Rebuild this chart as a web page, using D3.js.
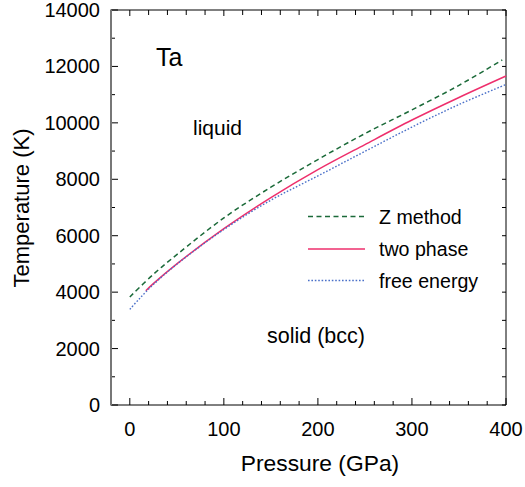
<!DOCTYPE html>
<html>
<head>
<meta charset="utf-8">
<script src="https://cdn.jsdelivr.net/npm/d3@7"></script>
<style>
  body { margin: 0; background: #fff; }
  svg { display: block; font-family: "Liberation Sans", Arial, sans-serif; }
</style>
</head>
<body>
<svg id="chart" width="525" height="487"></svg>
<script>
// data (pressure in GPa, temperature in K)
const zPressure = [0, 25, 50, 100, 150, 200, 250, 300, 350, 396];
const zTemp = [3830, 4630, 5330, 6630, 7720, 8700, 9620, 10460, 11330, 12230];

const twoPressure = [17, 25, 50, 100, 150, 200, 250, 300, 350, 400];
const twoTemp = [4050, 4300, 5000, 6250, 7350, 8340, 9230, 10100, 10900, 11660];

const freePressure = [0, 10, 25, 50, 100, 150, 200, 250, 300, 350, 400];
const freeTemp = [3390, 3760, 4270, 4990, 6220, 7260, 8120, 8990, 9850, 10650, 11360];

const xTicks = [0, 100, 200, 300, 400];
const yTicks = [0, 2000, 4000, 6000, 8000, 10000, 12000, 14000];

const seriesNames = ["Z method", "two phase", "free energy"];

// layout
var margin = ({ top: 10, right: 19, bottom: 82, left: 111 });
var width = 525, height = 487;

const svg = d3.select("#chart");

let x = d3.scaleLinear()
    .domain([-20, 400])
    .range([margin.left, width - margin.right]);

let y = d3.scaleLinear()
    .domain([0, 14000])
    .range([height - margin.bottom, margin.top]);

const series = [
    { name: seriesNames[0], p: zPressure, t: zTemp, color: "#1b6a39", dash: "5,3.5", w: 1.5 },
    { name: seriesNames[1], p: twoPressure, t: twoTemp, color: "#ee2f6c", dash: null, w: 1.5 },
    { name: seriesNames[2], p: freePressure, t: freeTemp, color: "#4a70c9", dash: "1.6,1.8", w: 1.4 }
];

// minor tick values
const xMinor = d3.range(0, 401, 20);
const yMinor = d3.range(0, 14001, 1000);

// ticks: bottom & top, inward
const axes = svg.append("g");
xMinor.forEach(v => {
    const major = v % 100 === 0;
    axes.append("line")
        .attr("x1", x(v)).attr("x2", x(v))
        .attr("y1", y(0)).attr("y2", y(0) - (major ? 7 : 4))
        .attr("stroke", "#000");
    axes.append("line")
        .attr("x1", x(v)).attr("x2", x(v))
        .attr("y1", y(14000)).attr("y2", y(14000) + (major ? 6 : 5))
        .attr("stroke", "#000");
});
yMinor.forEach(v => {
    const major = v % 2000 === 0;
    axes.append("line")
        .attr("x1", x(-20)).attr("x2", x(-20) + (major ? 7 : 4))
        .attr("y1", y(v)).attr("y2", y(v))
        .attr("stroke", "#000");
    axes.append("line")
        .attr("x1", x(400)).attr("x2", x(400) - 4)
        .attr("y1", y(v)).attr("y2", y(v))
        .attr("stroke", "#000");
});

// frame
axes.append("line").attr("x1", x(-20)).attr("x2", x(400)).attr("y1", y(14000)).attr("y2", y(14000)).attr("stroke", "#000");
axes.append("line").attr("x1", x(-20)).attr("x2", x(400)).attr("y1", y(0)).attr("y2", y(0)).attr("stroke", "#000");
axes.append("line").attr("x1", x(400)).attr("x2", x(400)).attr("y1", y(0)).attr("y2", y(14000)).attr("stroke", "#000");
axes.append("line").attr("x1", x(-20)).attr("x2", x(-20)).attr("y1", y(0) + 0.5).attr("y2", y(14000) - 0.5)
    .attr("stroke", "#777").attr("stroke-width", 2);

// tick labels
svg.append("g").selectAll("text")
    .data(xTicks)
    .join("text")
    .attr("x", d => x(d))
    .attr("y", 435.5)
    .attr("text-anchor", "middle")
    .attr("font-size", 20)
    .text(d => d);

svg.append("g").selectAll("text")
    .data(yTicks)
    .join("text")
    .attr("x", 100)
    .attr("y", d => y(d) + 7)
    .attr("text-anchor", "end")
    .attr("font-size", 20)
    .text(d => d);

// axis titles
svg.append("text")
    .attr("x", 320).attr("y", 471)
    .attr("text-anchor", "middle")
    .attr("font-size", 22.8)
    .text("Pressure (GPa)");

svg.append("text")
    .attr("transform", "translate(28.5,208) rotate(-90)")
    .attr("text-anchor", "middle")
    .attr("font-size", 22)
    .text("Temperature (K)");

// curves
let line = d3.line()
    .x(d => x(d[0]))
    .y(d => y(d[1]))
    .curve(d3.curveCatmullRom);

svg.append("g")
    .attr("fill", "none")
    .selectAll("path")
    .data(series)
    .join("path")
    .attr("d", s => line(s.p.map((p, i) => [p, s.t[i]])))
    .attr("stroke", s => s.color)
    .attr("stroke-width", s => s.w)
    .attr("stroke-dasharray", s => s.dash);

// annotations
svg.append("text").attr("x", 156).attr("y", 66).attr("font-size", 25).text("Ta");
svg.append("text").attr("x", 193).attr("y", 135).attr("font-size", 21).text("liquid");
svg.append("text").attr("x", 267).attr("y", 343).attr("font-size", 21.5).text("solid (bcc)");

// legend
const legendY = [216.5, 249, 280.5];
const legend = svg.append("g");
series.forEach((s, i) => {
    legend.append("line")
        .attr("x1", 308).attr("x2", 365)
        .attr("y1", legendY[i]).attr("y2", legendY[i])
        .attr("stroke", s.color)
        .attr("stroke-width", s.w)
        .attr("stroke-dasharray", s.dash);
    legend.append("text")
        .attr("x", 379).attr("y", legendY[i] + 7)
        .attr("font-size", 19.6)
        .text(s.name);
});
</script>
</body>
</html>
